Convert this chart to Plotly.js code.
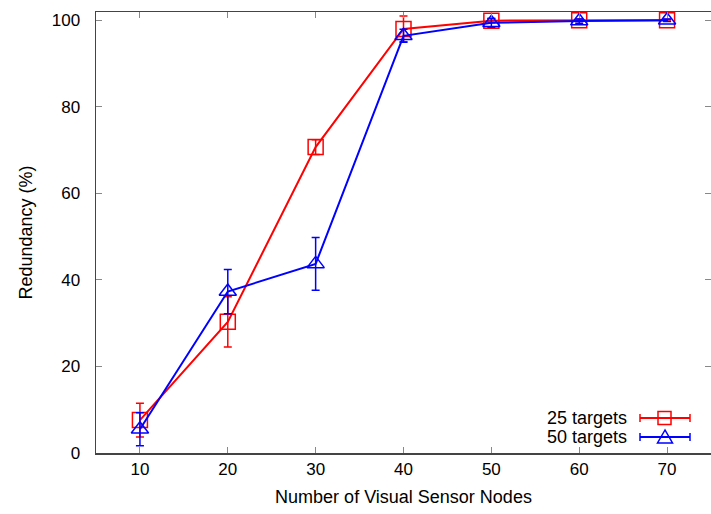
<!DOCTYPE html>
<html>
<head>
<meta charset="utf-8">
<script src="https://cdn.plot.ly/plotly-3.0.1.min.js"></script>
<style>html,body{margin:0;padding:0;background:#fff}</style>
</head>
<body>
<div id="chart" style="width:711px;height:514px"></div>
<script>
const nodes = [10, 20, 30, 40, 50, 60, 70];
const red25 = [7.6, 30.3, 70.7, 98.0, 99.9, 100, 100];
const red25Err = [3.9, 5.8, 1.7, 3.0, 0.5, 0.3, 0.2];
const blue50 = [5.5, 37.3, 43.7, 96.4, 99.4, 99.8, 100];
const blue50Err = [3.8, 5.1, 6.1, 1.5, 1.0, 0.5, 0.3];
const seriesNames = ['25 targets', '50 targets'];
const xTicks = [10, 20, 30, 40, 50, 60, 70];
const yTicks = [0, 20, 40, 60, 80, 100];

const RED = '#ff0000', BLUE = '#0000ff';
const FONT = 'Liberation Sans, Arial, sans-serif';

const traces = [
  {
    x: nodes, y: red25, name: seriesNames[0], type: 'scatter', mode: 'lines+markers',
    line: {color: RED, width: 2},
    marker: {symbol: 'square-open', size: 15, color: RED, line: {width: 1.5, color: RED}},
    error_y: {type: 'data', array: red25Err, visible: true, color: RED, thickness: 1.5, width: 4},
    showlegend: false
  },
  {
    x: nodes, y: blue50, name: seriesNames[1], type: 'scatter', mode: 'lines+markers',
    line: {color: BLUE, width: 2},
    marker: {symbol: 'triangle-up-open', size: 15, color: BLUE, line: {width: 1.5, color: BLUE}},
    error_y: {type: 'data', array: blue50Err, visible: true, color: BLUE, thickness: 1.5, width: 4},
    showlegend: false
  }
];

// custom gnuplot-style legend in paper coordinates
const L = 96, R = 711, T = 12, B = 453;
const px = v => (v - L) / (R - L);
const py = v => (B - v) / (B - T);
const legendRows = [
  {name: seriesNames[0], color: RED, y: 418, sym: 'square'},
  {name: seriesNames[1], color: BLUE, y: 437, sym: 'triangle'}
];
const shapes = [];
const annotations = [];
legendRows.forEach(r => {
  annotations.push({xref: 'paper', yref: 'paper', x: px(629), y: py(r.y), xanchor: 'right', yanchor: 'middle',
    text: r.name, showarrow: false, font: {family: FONT, size: 18, color: '#000'}});
  shapes.push({type: 'line', xref: 'paper', yref: 'paper', x0: px(640), x1: px(690), y0: py(r.y), y1: py(r.y), line: {color: r.color, width: 2}});
  shapes.push({type: 'line', xref: 'paper', yref: 'paper', x0: px(640), x1: px(640), y0: py(r.y - 4), y1: py(r.y + 4), line: {color: r.color, width: 1.5}});
  shapes.push({type: 'line', xref: 'paper', yref: 'paper', x0: px(690), x1: px(690), y0: py(r.y - 4), y1: py(r.y + 4), line: {color: r.color, width: 1.5}});
  if (r.sym === 'square') {
    shapes.push({type: 'rect', xref: 'paper', yref: 'paper', x0: px(658), x1: px(671), y0: py(r.y - 6.5), y1: py(r.y + 6.5), line: {color: r.color, width: 1.5}, fillcolor: 'rgba(0,0,0,0)'});
  } else {
    const ax = px(665), ay = py(r.y - 7), bx = px(657.5), by = py(r.y + 6), cx = px(672.5);
    shapes.push({type: 'path', xref: 'paper', yref: 'paper', path: `M ${ax} ${ay} L ${bx} ${by} L ${cx} ${by} Z`, line: {color: r.color, width: 1.5}, fillcolor: 'rgba(0,0,0,0)'});
  }
});

const layout = {
  width: 711, height: 514,
  margin: {l: 96, r: 0, t: 12, b: 61},
  paper_bgcolor: '#fff', plot_bgcolor: '#fff',
  font: {family: FONT, size: 17, color: '#000'},
  xaxis: {
    range: [5, 75], tickvals: xTicks, ticktext: xTicks.map(String),
    ticks: 'inside', ticklen: 6, tickcolor: '#888', tickwidth: 1,
    showline: true, linecolor: '#444', linewidth: 1.5, mirror: 'ticks',
    showgrid: false, zeroline: false,
    tickfont: {family: FONT, size: 17},
    title: {text: 'Number of Visual Sensor Nodes', font: {family: FONT, size: 18}, standoff: 12}
  },
  yaxis: {
    range: [0, 101.9], tickvals: yTicks, ticktext: yTicks.map(String),
    ticks: 'inside', ticklen: 6, tickcolor: '#888', tickwidth: 1,
    ticklabelstandoff: 11,
    showline: true, linecolor: '#444', linewidth: 1.5, mirror: 'ticks',
    showgrid: false, zeroline: false,
    tickfont: {family: FONT, size: 17},
    title: {text: 'Redundancy (%)', font: {family: FONT, size: 18}, standoff: 14}
  },
  shapes: shapes,
  annotations: annotations,
  showlegend: false
};

Plotly.newPlot('chart', traces, layout, {displayModeBar: false, staticPlot: true});
</script>
</body>
</html>
